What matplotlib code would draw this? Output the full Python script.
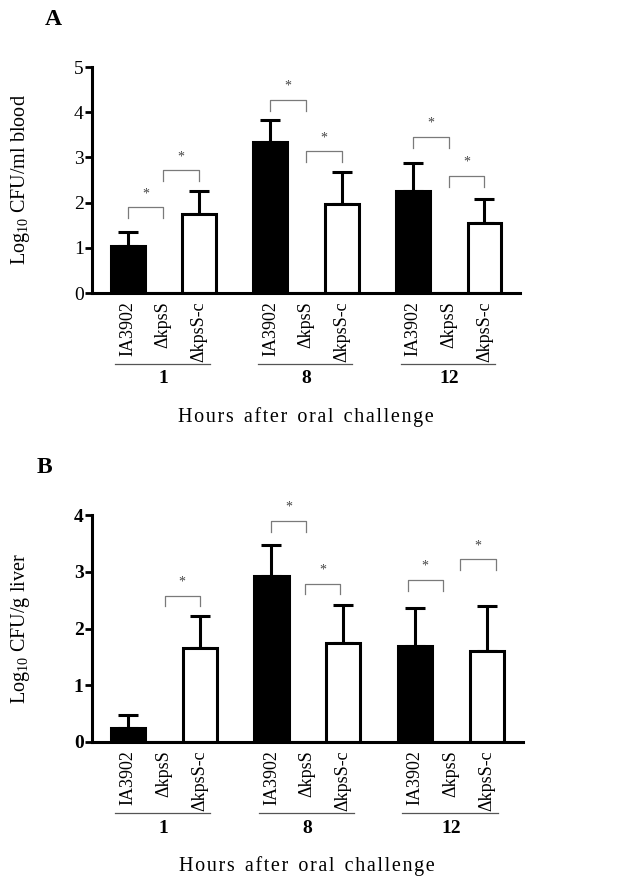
import numpy as np
import matplotlib
matplotlib.use('Agg')
import matplotlib.pyplot as plt

plt.rcParams['font.family'] = ['Liberation Serif', 'DejaVu Serif']
plt.rcParams['mathtext.fontset'] = 'custom'
plt.rcParams['mathtext.rm'] = 'Liberation Serif'
plt.rcParams['mathtext.it'] = 'Liberation Serif:italic'

# data (log10 CFU), upper SD only
strains = ['IA3902', 'ΔkpsS', 'ΔkpsS-c']
hours = ['1', '8', '12']
blood_mean = [[1.05, 0, 1.75], [3.35, 0, 1.97], [2.26, 0, 1.56]]
blood_sd = [[0.31, 0, 0.51], [0.47, 0, 0.70], [0.61, 0, 0.52]]
liver_mean = [[0.25, 0, 1.66], [2.92, 0, 1.75], [1.70, 0, 1.61]]
liver_sd = [[0.23, 0, 0.56], [0.56, 0, 0.67], [0.67, 0, 0.79]]
# significance brackets: (x start slot, x end slot, height)
blood_sig = [(0, 1, 1.90), (1, 2, 2.72), (4, 5, 4.28), (5, 6, 3.14), (8, 9, 3.46), (9, 10, 2.59)]
liver_sig = [(1.03, 2.0, 2.58), (4, 4.97, 3.90), (4.94, 5.92, 2.79), (7.8, 8.77, 2.86), (9.25, 10.25, 3.22)]

fig = plt.figure(figsize=(6.41, 8.76), dpi=100)

xlab = '\u200a'.join('Hours after oral challenge').replace('\u200a \u200a', '\u2002')


def panel(rect, mean, sd, sig, ymax, ylabel, letter, bold_ticks, drop, lx):
    ax = fig.add_axes(rect)
    mean = np.array(mean)
    sd = np.array(sd)
    pos = np.array([[4 * g + i for i in range(3)] for g in range(3)])
    colors = ['black', 'white', 'white']
    for i in range(3):
        ax.bar(pos[:, i], mean[:, i], width=0.95, color=colors[i], edgecolor='black',
               linewidth=2.2, zorder=2)
        m = mean[:, i] > 0
        if m.any():
            ax.errorbar(pos[m, i], mean[m, i], yerr=[np.zeros(m.sum()), sd[m, i]], fmt='none',
                        ecolor='black', elinewidth=2.2, capsize=7.5, capthick=2.2, zorder=1)
    for x0, x1, h in sig:
        ax.plot([x0, x0, x1, x1], [h - drop, h, h, h - drop], color='#7a7a7a', lw=0.9, zorder=3)
        ax.annotate('*', ((x0 + x1) / 2, h), xytext=(0, 5), textcoords='offset points',
                    ha='center', va='bottom', fontsize=10, color='#444444')
    ax.set_xlim(-1, 11)
    ax.set_ylim(0, ymax)
    ax.set_yticks(range(ymax + 1))
    ax.set_xticks(pos.flatten())
    ax.set_xticklabels(strains * 3, rotation=90, fontsize=13)
    ax.tick_params(axis='x', length=0, pad=6)
    ax.tick_params(axis='y', direction='out', length=5, width=2, labelsize=14, pad=1)
    if bold_ticks:
        for t in ax.get_yticklabels():
            t.set_fontweight('bold')
    for s in ['top', 'right']:
        ax.spines[s].set_visible(False)
    for s in ['left', 'bottom']:
        ax.spines[s].set_linewidth(2.2)
    tr = ax.get_xaxis_transform()
    for g in range(3):
        ax.plot([4 * g - 0.35, 4 * g + 2.3], [-0.315, -0.315], transform=tr, clip_on=False,
                color='#555555', lw=0.9)
        ax.text(4 * g + 1, -0.38, hours[g], transform=tr, ha='center', va='center',
                fontsize=14, fontweight='bold')
    ax.text(5, -0.548, xlab, transform=tr, ha='center', va='center', fontsize=14.5)
    ax.set_ylabel(ylabel, fontsize=14.5)
    ax.yaxis.set_label_coords(-0.14, 0.5)
    ax.text(lx, 1.21, letter, transform=ax.transAxes, fontsize=17, fontweight='bold',
            ha='left', va='center')
    return ax


panel([0.1435, 0.6655, 0.668, 0.258], blood_mean, blood_sd, blood_sig, 5,
      r'Log$_{10}$ CFU/ml blood', 'A', False, 0.25, -0.11)
panel([0.1435, 0.153, 0.672, 0.259], liver_mean, liver_sd, liver_sig, 4,
      r'Log$_{10}$ CFU/g liver', 'B', True, 0.19, -0.128)

fig.savefig('out.png', dpi=100)
